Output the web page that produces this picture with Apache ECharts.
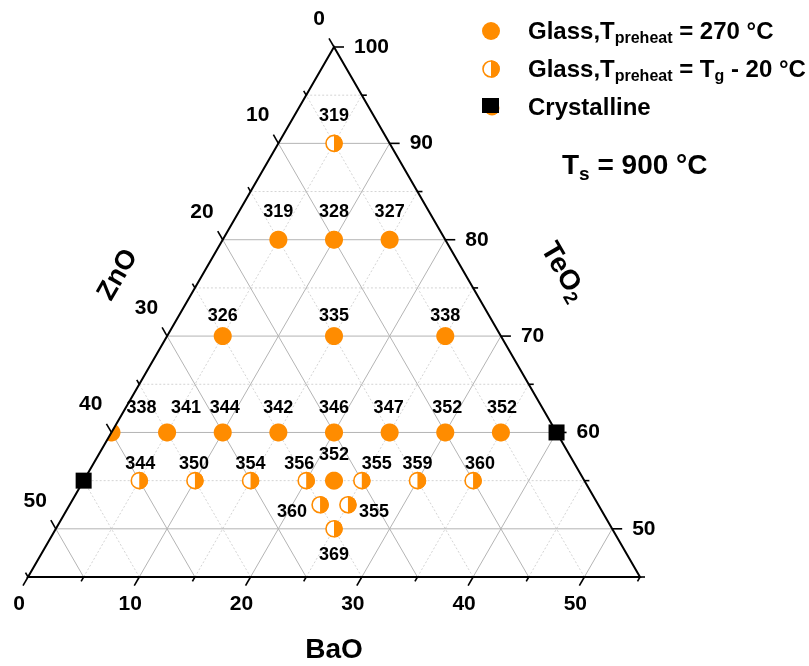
<!DOCTYPE html>
<html><head><meta charset="utf-8">
<script src="https://cdn.jsdelivr.net/npm/echarts@6/dist/echarts.min.js"></script>
<style>html,body{margin:0;padding:0;background:#fff}#c{width:809px;height:666px}</style>
</head><body><div id="c"></div>
<script>
// Ternary system: ZnO + BaO + TeO2 = 100 (mol%)
// Glass, T_preheat = 270 °C  (value = Tg, °C)
const glassZnO  = [15, 10, 5,  25, 15, 5,  40, 35, 30, 25, 20, 15, 10, 5,  22.5];
const glassBaO  = [5, 10, 15,  5, 15, 25,  0, 5, 10, 15, 20, 25, 30, 35,  22.5];
const glassTeO2 = [80, 80, 80, 70, 70, 70, 60, 60, 60, 60, 60, 60, 60, 60, 55];
const glassTg   = [319, 328, 327, 326, 335, 338, 338, 341, 344, 342, 346, 347, 352, 352, 352];

// Glass, T_preheat = Tg - 20 °C
const tgZnO  = [5,  40, 35, 30, 25, 20, 15, 10,  25, 22.5, 25];
const tgBaO  = [5,  5, 10, 15, 20, 25, 30, 35,  22.5, 25, 25];
const tgTeO2 = [90, 55, 55, 55, 55, 55, 55, 55, 52.5, 52.5, 50];
const tgTg   = [319, 344, 350, 354, 356, 355, 359, 360, 360, 355, 369];

// Crystalline
const crystZnO  = [0, 45];
const crystBaO  = [40, 0];
const crystTeO2 = [60, 55];

// axis tick labels
const znoTicks  = [0, 10, 20, 30, 40, 50];
const baoTicks  = [0, 10, 20, 30, 40, 50];
const teo2Ticks = [100, 90, 80, 70, 60, 50];

// ---- layout (label nudges in px, not data) ----
const glassLabelOffset = [[0,-28],[0,-28],[0,-28],[0,-20],[0,-20],[0,-20],[30,-24],[19,-24],[2,-24],[0,-24],[0,-24],[-1,-24],[2,-24],[1,-24],[0,-26]];
const tgLabelOffset = [[0,-27],[1,-17],[-1,-17],[0,-17],[-7,-17],[15,-17],[0,-17],[7,-17],[-28,7],[26,7],[0,26]];

const ORANGE = '#FF8C00';
const FONT = '"Liberation Sans", Arial, sans-serif';
const T0 = 45, TMAX = 100, SPAN = 55;

// ternary -> cartesian value space (x: 0..55, y: TeO2 45..100)
function proj(b, t) { return [b + (t - T0) / 2, t]; }

// grid segments
const majorSeg = [], minorSeg = [];
for (let v = 5; v <= 50; v += 5) {
  const tgt = (v % 10 === 0) ? majorSeg : minorSeg;
  const t = 100 - v; // TeO2 line
  tgt.push([...proj(0, t), ...proj(100 - t, t)]);
  tgt.push([...proj(v, T0), ...proj(v, 100 - v)]);          // BaO const
  tgt.push([...proj(SPAN - v, T0), ...proj(0, 100 - v)]);   // ZnO const
}
// ticks: [x, y, axis(0 ZnO,1 BaO,2 TeO2), value]
const ticks = [];
for (let v = 0; v <= SPAN; v += 5) {
  ticks.push([...proj(0, 100 - v), 0, v]);
  ticks.push([...proj(v, T0), 1, v]);
  const t = T0 + v;
  ticks.push([...proj(100 - t, t), 2, t]);
}
const tickDir = [[-0.5, -0.866], [-0.5, 0.866], [1, 0]];
const tickLabels = [znoTicks, baoTicks, teo2Ticks];
const labelOff = [[-9, -28, 'right'], [-9, 27, 'center'], [20, 0, 'left']];

function txt(x, y, s, size, align) {
  return { type: 'text', x: x, y: y, style: { text: String(s), fill: '#000',
    font: 'bold ' + size + 'px ' + FONT, align: align || 'center', verticalAlign: 'middle',
    textAlign: align || 'center', textVerticalAlign: 'middle' } };
}
function halfCircle(cx, cy, r) {
  return [
    { type: 'circle', shape: { cx: cx, cy: cy, r: r }, style: { fill: '#fff', stroke: ORANGE, lineWidth: 1.6 } },
    { type: 'sector', shape: { cx: cx, cy: cy, r0: 0, r: r + 0.8, startAngle: -Math.PI / 2, endAngle: Math.PI / 2, clockwise: true }, style: { fill: ORANGE } }
  ];
}
// circle clipped to triangle (polygon points) in px
function clipCircle(cx, cy, r, tri) {
  let pts = [];
  for (let k = 0; k < 64; k++) { const a = k / 64 * Math.PI * 2; pts.push([cx + r * Math.cos(a), cy + r * Math.sin(a)]); }
  for (let e = 0; e < 3; e++) {
    const A = tri[e], B = tri[(e + 1) % 3], C = tri[(e + 2) % 3];
    const side = p => (B[0] - A[0]) * (p[1] - A[1]) - (B[1] - A[1]) * (p[0] - A[0]);
    const sC = Math.sign(side(C));
    const inside = p => side(p) * sC >= 0;
    const out = [];
    for (let i = 0; i < pts.length; i++) {
      const P = pts[i], Q = pts[(i + 1) % pts.length];
      const ip = inside(P), iq = inside(Q);
      if (ip) out.push(P);
      if (ip !== iq) { const sp = side(P), sq = side(Q); const u = sp / (sp - sq); out.push([P[0] + u * (Q[0] - P[0]), P[1] + u * (Q[1] - P[1])]); }
    }
    pts = out;
  }
  return pts;
}

const chart = echarts.init(document.getElementById('c'), null, { renderer: 'canvas' });
const lineSeries = (data, style, z) => ({
  type: 'custom', data: data, z: z, silent: true, clip: false, animation: false,
  renderItem: (p, api) => {
    const a = api.coord([api.value(0), api.value(1)]), b = api.coord([api.value(2), api.value(3)]);
    return { type: 'line', shape: { x1: a[0], y1: a[1], x2: b[0], y2: b[1] }, style: style };
  }
});
const subStyle = (size, lh) => ({ fontSize: size, fontWeight: 'bold', fontFamily: FONT, lineHeight: lh, verticalAlign: 'bottom' });

chart.setOption({
  animation: false,
  grid: { left: 28, top: 47, width: 612, height: 530 },
  xAxis: { type: 'value', min: 0, max: SPAN, show: false },
  yAxis: { type: 'value', min: T0, max: TMAX, show: false },
  series: [
    lineSeries(minorSeg, { stroke: '#d4d4d4', lineWidth: 1, lineDash: [2, 2] }, 1),
    lineSeries(majorSeg, { stroke: '#b4b4b4', lineWidth: 1 }, 2),
    { // glass 270 points
      type: 'custom', z: 5, clip: false, animation: false,
      data: glassBaO.map((b, i) => [...proj(b, glassTeO2[i]), glassTg[i], i]),
      renderItem: (p, api) => {
        const c = api.coord([api.value(0), api.value(1)]);
        const i = api.value(3);
        const tri = [api.coord(proj(0, T0)), api.coord(proj(SPAN, T0)), api.coord(proj(0, TMAX))];
        const pts = clipCircle(c[0], c[1], 9, tri);
        const o = glassLabelOffset[i];
        return { type: 'group', children: [
          { type: 'polygon', shape: { points: pts }, style: { fill: ORANGE } },
          txt(c[0] + o[0], c[1] + o[1], api.value(2), 18)
        ] };
      }
    },
    { // glass Tg-20 points
      type: 'custom', z: 5, clip: false, animation: false,
      data: tgBaO.map((b, i) => [...proj(b, tgTeO2[i]), tgTg[i], i]),
      renderItem: (p, api) => {
        const c = api.coord([api.value(0), api.value(1)]);
        const o = tgLabelOffset[api.value(3)];
        return { type: 'group', children: [
          ...halfCircle(c[0], c[1], 8),
          txt(c[0] + o[0], c[1] + o[1], api.value(2), 18)
        ] };
      }
    },
    { // triangle frame
      type: 'custom', z: 6, clip: false, animation: false, data: [[0]],
      renderItem: (p, api) => {
        const tri = [api.coord(proj(0, T0)), api.coord(proj(SPAN, T0)), api.coord(proj(0, TMAX))];
        return { type: 'polygon', shape: { points: tri }, style: { fill: 'none', stroke: '#000', lineWidth: 2, lineJoin: 'miter' } };
      }
    },
    { // ticks and tick labels
      type: 'custom', z: 6, clip: false, animation: false, data: ticks,
      renderItem: (p, api) => {
        const c = api.coord([api.value(0), api.value(1)]);
        const ax = api.value(2), v = api.value(3);
        const d = tickDir[ax];
        const len = (v % 10 === 0) ? 10 : 5;
        const ch = [{ type: 'line', shape: { x1: c[0], y1: c[1], x2: c[0] + d[0] * len, y2: c[1] + d[1] * len }, style: { stroke: '#000', lineWidth: 1.6 } }];
        if (tickLabels[ax].indexOf(v) >= 0) {
          const o = labelOff[ax];
          ch.push(txt(c[0] + o[0], c[1] + o[1], v, 21, o[2]));
        }
        return { type: 'group', children: ch };
      }
    },
    { // crystalline
      type: 'custom', z: 7, clip: false, animation: false,
      data: crystBaO.map((b, i) => proj(b, crystTeO2[i])),
      renderItem: (p, api) => {
        const c = api.coord([api.value(0), api.value(1)]);
        return { type: 'rect', shape: { x: c[0] - 8, y: c[1] - 8, width: 16, height: 16 }, style: { fill: '#000' } };
      }
    }
  ],
  graphic: [
    { type: 'circle', shape: { cx: 491, cy: 31, r: 9 }, style: { fill: ORANGE } },
    ...halfCircle(491, 69, 8),
    { type: 'circle', shape: { cx: 492, cy: 108, r: 7.5 }, style: { fill: ORANGE } },
    { type: 'rect', shape: { x: 482, y: 98, width: 17, height: 15 }, style: { fill: '#000' } },
    { type: 'text', x: 528, y: 32, style: { text: 'Glass,T{s|preheat} = 270 °C', fill: '#000', fontSize: 24, fontWeight: 'bold', fontFamily: FONT, lineHeight: 30, verticalAlign: 'middle', align: 'left',
      rich: { s: subStyle(16, 14) } } },
    { type: 'text', x: 528, y: 70, style: { text: 'Glass,T{s|preheat} = T{s|g} - 20 °C', fill: '#000', fontSize: 24, fontWeight: 'bold', fontFamily: FONT, lineHeight: 30, verticalAlign: 'middle', align: 'left',
      rich: { s: subStyle(16, 14) } } },
    { type: 'text', x: 528, y: 108, style: { text: 'Crystalline', fill: '#000', fontSize: 24, fontWeight: 'bold', fontFamily: FONT, verticalAlign: 'middle', align: 'left' } },
    { type: 'text', x: 562, y: 166, style: { text: 'T{s|s} = 900 °C', fill: '#000', fontSize: 28, fontWeight: 'bold', fontFamily: FONT, lineHeight: 36, verticalAlign: 'middle', align: 'left',
      rich: { s: subStyle(19, 18) } } },
    { type: 'text', x: 118, y: 275, rotation: Math.PI / 3, style: { text: 'ZnO', fill: '#000', fontSize: 27, fontWeight: 'bold', fontFamily: FONT, verticalAlign: 'middle', align: 'center' } },
    { type: 'text', x: 563, y: 272, rotation: -Math.PI / 3, style: { text: 'TeO{s|2}', fill: '#000', fontSize: 28, fontWeight: 'bold', fontFamily: FONT, lineHeight: 34, verticalAlign: 'middle', align: 'center',
      rich: { s: subStyle(19, 16) } } },
    { type: 'text', x: 334, y: 650, style: { text: 'BaO', fill: '#000', fontSize: 28, fontWeight: 'bold', fontFamily: FONT, verticalAlign: 'middle', align: 'center' } }
  ]
});
</script></body></html>
